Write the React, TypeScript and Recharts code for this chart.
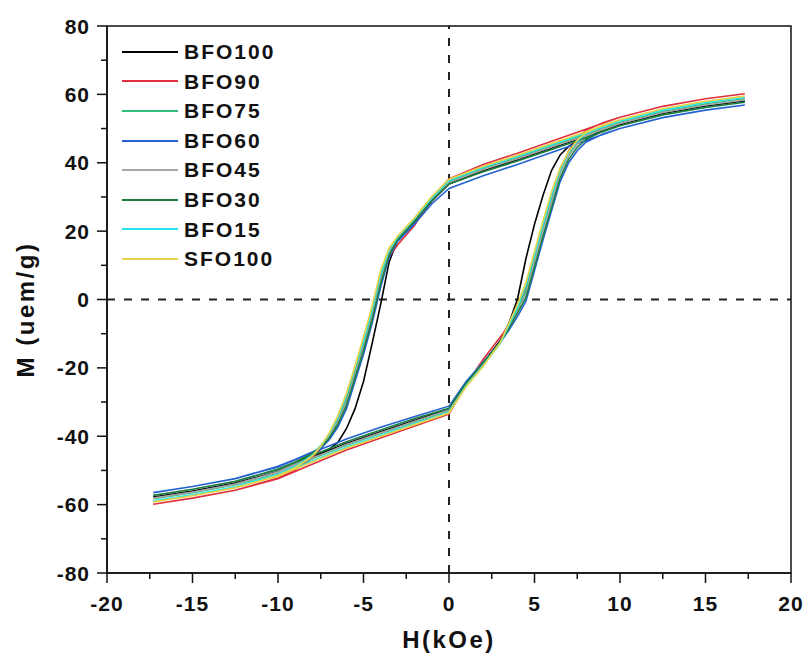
import React from 'react';
import { LineChart, Line, XAxis, YAxis, ReferenceLine, ReferenceArea, Legend, Label } from 'recharts';

// Field values (kOe) for the descending branch (+H -> -H) and ascending branch (-H -> +H)
const H_DESC = [17.3, 15, 12.5, 10, 8, 6, 4, 2, 0, -1, -2, -3, -3.5, -4, -4.5, -5, -5.5, -6, -6.5, -7, -7.5, -8, -9, -10, -12.5, -15, -17.3];
const H_ASC = [-17.3, -15, -12.5, -10, -8, -6, -4, -2, 0, 1, 2, 3, 3.5, 4, 4.5, 5, 5.5, 6, 6.5, 7, 7.5, 8, 9, 10, 12.5, 15, 17.3];

// Magnetization (emu/g) per sample
const BFO100_DESC = [58.1, 56.6, 54.4, 51.2, 47.7, 44.3, 40.9, 37.7, 33.8, 28.8, 22.8, 17.5, 11, -1.5, -13, -24, -32, -37.8, -41.8, -43.8, -45, -46.2, -48.3, -50.3, -53.8, -56, -57.8];
const BFO100_ASC = [-57.8, -56, -53.7, -50.3, -46.1, -42.1, -38.7, -35.3, -32, -24.5, -18.5, -12, -7, 0, 12, 22, 30.5, 37.8, 42.3, 44.8, 46.3, 47.4, 49.6, 51.2, 54.4, 56.6, 58.1];

const BFO90_DESC = [60.2, 58.7, 56.5, 53.3, 49.8, 46.3, 42.8, 39.5, 35.3, 29.8, 21.8, 16, 12.5, 5.5, -4.5, -13.5, -21.5, -29.5, -35.5, -40.2, -43.8, -46.5, -49.8, -52.2, -55.8, -58.1, -59.9];
const BFO90_ASC = [-59.9, -58.1, -55.8, -52.4, -48.2, -44, -40.5, -37, -33.5, -25, -17.5, -11, -7.5, -2.5, 3.5, 12.5, 21.5, 30, 38, 43.5, 47.2, 49.5, 51.7, 53.3, 56.5, 58.7, 60.2];

const BFO75_DESC = [58.7, 57.2, 55.0, 51.8, 48.3, 44.9, 41.5, 38.3, 34.5, 29.5, 23.5, 18, 14, 6.5, -4, -13, -21, -29, -35, -39.5, -42.8, -45.2, -48.3, -50.6, -54.2, -56.5, -58.3];
const BFO75_ASC = [-58.3, -56.5, -54.2, -50.8, -46.6, -42.6, -39.2, -35.8, -32.5, -25, -19, -12.5, -8, -3, 2.5, 12, 21, 29.5, 37.5, 42.5, 45.8, 48, 50.2, 51.8, 55.0, 57.2, 58.7];

const BFO60_DESC = [56.9, 55.4, 53.2, 50, 46.5, 43, 39.5, 36.2, 32.5, 28, 22.2, 17, 12.5, 3.5, -7, -16, -24, -32, -37.3, -41, -43.5, -44.6, -46.8, -48.8, -52.4, -54.7, -56.5];
const BFO60_ASC = [-56.5, -54.7, -52.4, -49, -44.8, -40.8, -37.4, -34.2, -31.2, -24, -18.3, -12.5, -9, -5, -0.5, 8.5, 17.5, 26, 34.5, 40, 43.5, 46, 48.4, 50, 53.2, 55.4, 56.9];

const BFO45_DESC = [58.4, 56.9, 54.7, 51.5, 48.0, 44.6, 41.2, 38, 34.2, 29.2, 23.2, 17.7, 13.5, 5.5, -5, -14, -22, -30, -35.8, -40, -43, -45.2, -48.1, -50.4, -54, -56.3, -58.1];
const BFO45_ASC = [-58.1, -56.3, -54, -50.6, -46.4, -42.4, -39, -35.6, -32.3, -24.8, -18.8, -12.5, -8.3, -3.5, 1.5, 11, 20, 28.5, 36.8, 42, 45.5, 47.7, 49.9, 51.5, 54.7, 56.9, 58.4];

const BFO30_DESC = [57.7, 56.2, 54, 50.8, 47.3, 43.9, 40.5, 37.4, 33.8, 29, 23, 17.5, 13, 4.5, -6, -15, -23, -31, -36.5, -40.5, -43.2, -45, -47.5, -49.6, -53.2, -55.5, -57.3];
const BFO30_ASC = [-57.3, -55.5, -53.2, -49.8, -45.6, -41.6, -38.2, -34.8, -31.8, -24.5, -18.5, -12.5, -8.5, -4, 0.5, 9.5, 18.5, 27, 35.5, 41, 44.5, 46.8, 49.2, 50.8, 54, 56.2, 57.7];

const BFO15_DESC = [59.1, 57.6, 55.4, 52.2, 48.7, 45.3, 41.9, 38.7, 34.8, 29.8, 23.8, 18.3, 14.5, 7.5, -3, -12, -20, -28, -34.5, -39.3, -43, -45.6, -48.8, -51.1, -54.8, -57.1, -58.9];
const BFO15_ASC = [-58.9, -57.1, -54.8, -51.4, -47.2, -43.2, -39.8, -36.3, -33, -25.3, -19.3, -12.8, -7.5, -2.3, 4.2, 13, 22, 30.5, 38, 43, 46.3, 48.5, 50.6, 52.2, 55.4, 57.6, 59.1];

const SFO100_DESC = [59.5, 58.0, 55.8, 52.6, 49.1, 45.6, 42.2, 39.0, 35.2, 30.2, 24, 18.6, 15, 8.5, -2, -11, -19.5, -27.5, -34, -39, -43, -45.8, -49.2, -51.5, -55.1, -57.4, -59.2];
const SFO100_ASC = [-59.2, -57.4, -55.1, -51.7, -47.5, -43.5, -40.1, -36.6, -33.2, -25.5, -19.5, -12.5, -7, -1.5, 5, 14, 23, 31.5, 38.5, 43.3, 46.6, 48.8, 51, 52.6, 55.8, 58.0, 59.5];

const SERIES_NAMES = ['BFO100', 'BFO90', 'BFO75', 'BFO60', 'BFO45', 'BFO30', 'BFO15', 'SFO100'];
const SERIES_COLORS = ['#000000', '#e0303f', '#30bf7c', '#2462d2', '#a6a6a6', '#1c7e42', '#22e6ef', '#e6d244'];
const SERIES_DESC = [BFO100_DESC, BFO90_DESC, BFO75_DESC, BFO60_DESC, BFO45_DESC, BFO30_DESC, BFO15_DESC, SFO100_DESC];
const SERIES_ASC = [BFO100_ASC, BFO90_ASC, BFO75_ASC, BFO60_ASC, BFO45_ASC, BFO30_ASC, BFO15_ASC, SFO100_ASC];

const X_TICKS = [-20, -17.5, -15, -12.5, -10, -7.5, -5, -2.5, 0, 2.5, 5, 7.5, 10, 12.5, 15, 17.5, 20];
const Y_TICKS = [-80, -70, -60, -50, -40, -30, -20, -10, 0, 10, 20, 30, 40, 50, 60, 70, 80];

const FONT = 'Arial, "Liberation Sans", Helvetica, sans-serif';

const loops = SERIES_NAMES.map((name, i) => ({
  name,
  color: SERIES_COLORS[i],
  data: [
    ...H_DESC.map((h, j) => ({ h, m: SERIES_DESC[i][j] })),
    ...H_ASC.map((h, j) => ({ h, m: SERIES_ASC[i][j] })),
  ],
}));

const TICK = 10;

const XTick = (props: any) => {
  const { x, y, payload } = props;
  const v = payload.value;
  const major = Math.abs(v % 5) < 1e-9;
  const ay = y - TICK;
  return (
    <g>
      <line x1={x} y1={ay} x2={x} y2={ay + (major ? 10 : 6)} stroke="#111" strokeWidth={1.5} />
      {major && (
        <text x={x} y={ay + 38} textAnchor="middle" fontFamily={FONT} fontWeight="bold" fontSize={21} letterSpacing={1} fill="#111">
          {v}
        </text>
      )}
    </g>
  );
};

const YTick = (props: any) => {
  const { x, y, payload } = props;
  const v = payload.value;
  const major = Math.abs(v % 20) < 1e-9;
  const ax = x + TICK;
  return (
    <g>
      <line x1={ax} y1={y} x2={ax - (major ? 10 : 6)} y2={y} stroke="#111" strokeWidth={1.5} />
      {major && (
        <text x={ax - 17} y={y + 7.5} textAnchor="end" fontFamily={FONT} fontWeight="bold" fontSize={21} letterSpacing={1} fill="#111">
          {v}
        </text>
      )}
    </g>
  );
};

const XTitle = (props: any) => {
  const vb = props.viewBox || { x: 107, y: 573, width: 684, height: 81 };
  return (
    <text x={vb.x + vb.width / 2} y={vb.y + 75} textAnchor="middle" fontFamily={FONT} fontWeight="bold" fontSize={24} letterSpacing={2.5} fill="#111">
      H(kOe)
    </text>
  );
};

const YTitle = (props: any) => {
  const vb = props.viewBox || { x: 0, y: 26, width: 107, height: 547 };
  const cx = vb.x + 34;
  const cy = vb.y + vb.height / 2 + 10;
  return (
    <text transform={`translate(${cx},${cy}) rotate(-90)`} x={0} y={0} textAnchor="middle" fontFamily={FONT} fontWeight="bold" fontSize={24} letterSpacing={2.5} fill="#111">
      M (uem/g)
    </text>
  );
};

const LegendContent = () => (
  <div style={{ fontFamily: FONT, fontWeight: 'bold', fontSize: 21, letterSpacing: 2, color: '#111' }}>
    {loops.map((s) => (
      <div key={s.name} style={{ display: 'flex', alignItems: 'center', height: 29.6 }}>
        <div style={{ width: 56, height: 2, background: s.color, marginRight: 6 }} />
        <span style={{ lineHeight: '29.6px', whiteSpace: 'nowrap' }}>{s.name}</span>
      </div>
    ))}
  </div>
);

export default function App() {
  return (
    <div style={{ position: 'absolute', left: 0, top: 0, background: '#fff' }}>
      <LineChart width={803} height={654} margin={{ top: 26, right: 12, left: 0, bottom: 0 }}>
        <XAxis
          type="number"
          dataKey="h"
          domain={[-20, 20]}
          ticks={X_TICKS}
          interval={0}
          tickSize={TICK}
          tickMargin={0}
          tickLine={false}
          axisLine={{ stroke: '#111', strokeWidth: 1.5 }}
          height={81}
          tick={XTick}
          allowDataOverflow
        >
          <Label content={XTitle} />
        </XAxis>
        <YAxis
          type="number"
          dataKey="m"
          domain={[-80, 80]}
          ticks={Y_TICKS}
          interval={0}
          tickSize={TICK}
          tickMargin={0}
          tickLine={false}
          axisLine={{ stroke: '#111', strokeWidth: 1.5 }}
          width={107}
          tick={YTick}
          allowDataOverflow
        >
          <Label content={YTitle} />
        </YAxis>
        <ReferenceArea x1={-20} x2={20} y1={-80} y2={80} fill="none" fillOpacity={0} stroke="#111" strokeWidth={1.5} ifOverflow="visible" />
        <ReferenceLine x={0} stroke="#222" strokeDasharray="8 9" strokeWidth={2} />
        <ReferenceLine y={0} stroke="#222" strokeDasharray="8 9" strokeWidth={2} />
        {loops.map((s) => (
          <Line
            key={s.name}
            data={s.data}
            dataKey="m"
            name={s.name}
            type="linear"
            stroke={s.color}
            strokeWidth={1.6}
            dot={false}
            activeDot={false}
            isAnimationActive={false}
          />
        ))}
        <Legend
          layout="vertical"
          align="center"
          verticalAlign="middle"
          content={LegendContent}
          wrapperStyle={{ left: 122, top: 37, width: 'auto', height: 'auto' }}
        />
      </LineChart>
    </div>
  );
}
